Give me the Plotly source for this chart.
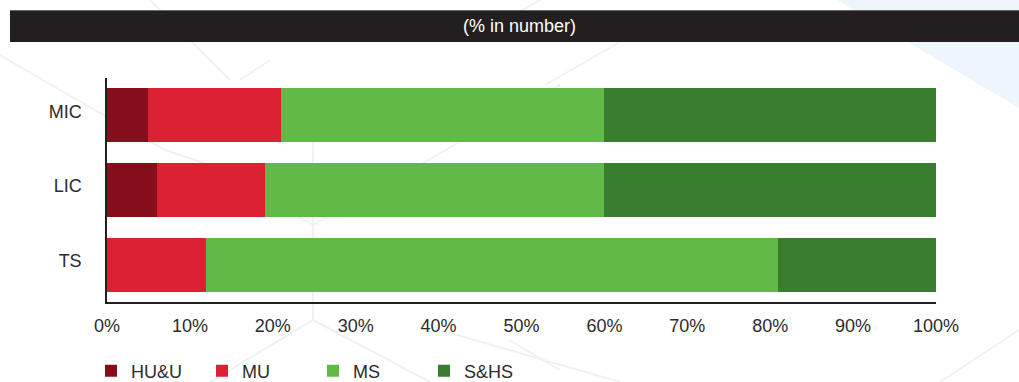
import plotly.graph_objects as go

categories = ["MIC", "LIC", "TS"]
series_names = ["HU&U", "MU", "MS", "S&HS"]
hu_u = [5, 6, 0]
mu = [16, 13, 12]
ms = [39, 41, 69]
s_hs = [40, 40, 19]
tick_vals = [0, 10, 20, 30, 40, 50, 60, 70, 80, 90, 100]
tick_text = [f"{v}%" for v in tick_vals]
title_text = "(% in number)"

colors = ["#860d1a", "#dc2133", "#61ba47", "#387e2e"]
series_values = [hu_u, mu, ms, s_hs]

W, H = 1019, 382
L, R, T, B = 107, 936, 78, 302
pw, ph = R - L, B - T

def px(x):
    return (x - L) / pw

def py(y):
    return (B - y) / ph

FONT = "Liberation Sans Narrow, Liberation Sans, Arial, sans-serif"
TXT = "#2b2b2b"

fig = go.Figure()
for name, vals, col in zip(series_names, series_values, colors):
    fig.add_trace(go.Bar(
        y=categories, x=vals, name=name, orientation="h",
        marker=dict(color=col, line=dict(width=0)),
    ))

shapes = []
# light blue decorative triangle top-right
shapes.append(dict(type="path", xref="paper", yref="paper", layer="below",
                   path=f"M {px(837)},{py(0)} L {px(1019)},{py(0)} L {px(1019)},{py(108)} Z",
                   fillcolor="#eef6fd", line=dict(width=0)))
# faint hexagonal decorative lines
line_col = "#f1f1f1"
segs = [
    (313, 142, 313, 320), (313, 320, 210, 382), (313, 320, 430, 382),
    (313, 225, 210, 165), (313, 225, 420, 165),
    (150, 0, 230, 80), (0, 55, 60, 90), (60, 90, 165, 150), (165, 150, 210, 165),
    (270, 60, 240, 80), (420, 165, 500, 118), (500, 118, 560, 85),
    (540, 0, 470, 40), (620, 42, 545, 85),
    (440, 330, 620, 382), (1019, 330, 940, 382), (509, 340, 560, 370),
]
for x0, y0, x1, y1 in segs:
    shapes.append(dict(type="line", xref="paper", yref="paper", layer="below",
                       x0=px(x0), y0=py(y0), x1=px(x1), y1=py(y1),
                       line=dict(color=line_col, width=2)))
# title bar
shapes.append(dict(type="rect", xref="paper", yref="paper", layer="above",
                   x0=px(10), x1=px(1019), y0=py(42), y1=py(10),
                   fillcolor="#231f20", line=dict(width=0)))
shapes.append(dict(type="line", xref="paper", yref="paper", layer="above",
                   x0=px(10), x1=px(1019), y0=py(10.5), y1=py(10.5),
                   line=dict(color="#6a6667", width=1)))

fig.update_layout(
    width=W, height=H,
    margin=dict(l=L, r=W - R, t=T, b=H - B, pad=0, autoexpand=False),
    paper_bgcolor="white", plot_bgcolor="rgba(0,0,0,0)",
    barmode="stack", bargap=0.275,
    font=dict(family=FONT, size=18, color=TXT),
    shapes=shapes,
    annotations=[dict(text=title_text, xref="paper", yref="paper",
                      x=px(519), y=py(26), xanchor="center", yanchor="middle",
                      showarrow=False, font=dict(family=FONT, size=18, color="white"))],
    showlegend=True,
    legend=dict(orientation="h", x=px(91), y=py(371), xanchor="left", yanchor="middle",
                font=dict(family=FONT, size=18, color=TXT),
                entrywidth=66, itemwidth=30, traceorder="normal",
                bgcolor="rgba(0,0,0,0)"),
)
fig.update_xaxes(range=[0, 100], tickvals=tick_vals, ticktext=tick_text,
                 showgrid=False, zeroline=False, showline=True,
                 linecolor="#231f20", linewidth=1.5, ticks="",
                 ticklabelstandoff=7, fixedrange=True, automargin=False)
fig.update_yaxes(categoryorder="array", categoryarray=categories[::-1],
                 showgrid=False, zeroline=False, showline=True,
                 linecolor="#231f20", linewidth=1.5, ticks="",
                 ticklabelstandoff=20, ticklabelshift=-4,
                 fixedrange=True, automargin=False)

fig.write_html("out.html", config={"displayModeBar": False})
